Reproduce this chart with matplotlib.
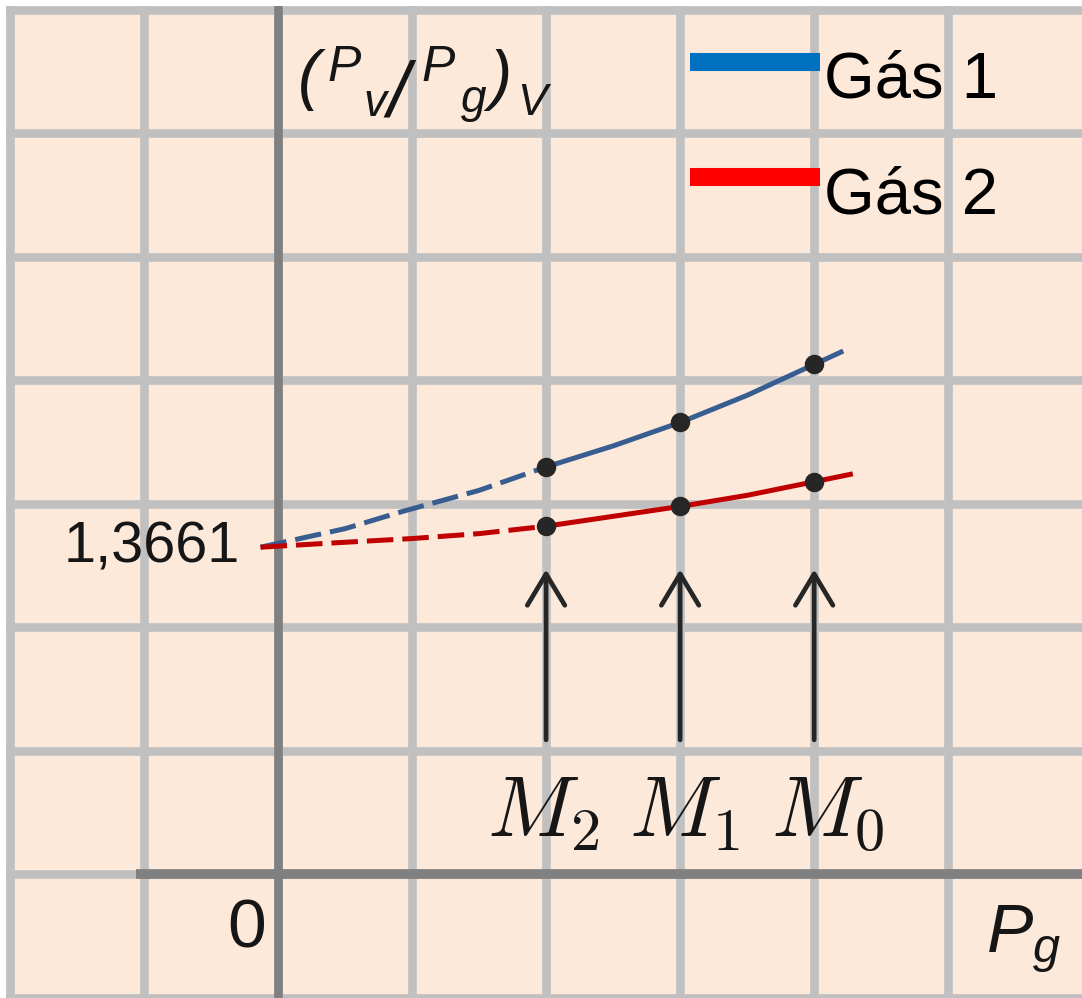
import matplotlib
matplotlib.use("Agg")
import matplotlib.pyplot as plt
from matplotlib.lines import Line2D

plt.rcParams['mathtext.fontset'] = 'custom'
plt.rcParams['mathtext.it'] = 'Liberation Sans:italic'
plt.rcParams['mathtext.rm'] = 'Liberation Sans'

# curves (grid units)
blue_dash_x = [-0.13, 0.5, 0.93, 1.5, 2.0]
blue_dash_y = [2.65, 2.80, 2.94, 3.11, 3.30]
blue_x = [2.0, 2.5, 3.0, 3.5, 4.0, 4.2]
blue_y = [3.30, 3.47, 3.66, 3.88, 4.13, 4.23]

red_dash_x = [-0.13, 0.5, 1.0, 1.5, 2.0]
red_dash_y = [2.65, 2.69, 2.72, 2.76, 2.82]
red_x = [2.0, 2.5, 3.0, 3.5, 4.0, 4.27]
red_y = [2.82, 2.90, 2.98, 3.07, 3.18, 3.24]

m_x = [2, 3, 4]
m_labels = [r'$M_2$', r'$M_1$', r'$M_0$']
blue_pts = [3.30, 3.66, 4.13]
red_pts = [2.82, 2.98, 3.18]
arrow_bottom = 1.09
arrow_top = 2.47
intercept_label = '1,3661'
legend_labels = ['Gás 1', 'Gás 2']

bg = '#fce9da'
grid_c = '#c0c0c0'
axis_c = '#808080'
blue_c = '#375d91'
red_c = '#c00000'
txt_c = '#161616'

# pixel grid of the picture: 134.04 px per unit in x (x=0 at 278 px),
# 123.57 px per unit in y (y=0 at 875 px from top)
def px(x, y):
    return (x - 278) / 134.04, (875 - y) / 123.57

fig = plt.figure(figsize=(10.82, 9.98), dpi=100, facecolor='white')
ax = fig.add_axes([6 / 1082, 0, 1076 / 1082, 992 / 998])
ax.set_facecolor(bg)
ax.set_xlim(-2.029, 5.998)
ax.set_ylim(-0.995, 7.032)
ax.set_xticks(range(-2, 6))
ax.set_yticks(range(-1, 8))
ax.tick_params(length=0, labelbottom=False, labelleft=False)
ax.grid(True, color=grid_c, lw=6.2)
ax.set_axisbelow(True)
for s in ax.spines.values():
    s.set_visible(False)

ax.axvline(0, color=axis_c, lw=6.2, zorder=1.5)
ax.hlines(0, -1.06, 6.2, color=axis_c, lw=7, zorder=1.5)

ax.plot(blue_dash_x, blue_dash_y, color=blue_c, lw=3.6, dashes=[5.3, 1.8], zorder=3)
ax.plot(red_dash_x, red_dash_y, color=red_c, lw=3.6, dashes=[5.3, 1.8], zorder=3)
ax.plot(blue_x, blue_y, color=blue_c, lw=3.6, zorder=3)
ax.plot(red_x, red_y, color=red_c, lw=3.6, zorder=3)
ax.plot(m_x, blue_pts, 'o', color='#262626', ms=13, zorder=4)
ax.plot(m_x, red_pts, 'o', color='#262626', ms=13, zorder=4)

label_shift = [-0.02, 0.03, 0.1]
for x, lab, dx in zip(m_x, m_labels, label_shift):
    ax.annotate('', xy=(x, arrow_top), xytext=(x, arrow_bottom),
                arrowprops=dict(arrowstyle='->,head_length=0.75,head_width=0.45',
                                lw=3.4, color='#262626', mutation_scale=30,
                                shrinkA=0, shrinkB=0), zorder=4)
    ax.text(x + dx, 0.3075, lab, ha='center', va='baseline', fontsize=62,
            math_fontfamily='cm', color=txt_c)

ax.text(*px(240, 563), intercept_label, ha='right', va='baseline', fontsize=41.5,
        family='Liberation Sans', color=txt_c)
ax.text(*px(266, 948), '0', ha='right', va='baseline', fontsize=50,
        family='Liberation Sans', color=txt_c)
ax.text(*px(986, 953), r'$P_g$', ha='left', va='baseline', fontsize=50, color=txt_c)

# (P_v/P_g)_V label, piece by piece
pieces = [('(', 298, 97, 48), ('P', 327, 81, 36), ('v', 363, 116, 33),
          ('/', 387, 117, 56), ('P', 421, 81, 36), ('g', 461, 112, 33),
          (')', 489, 97, 48), ('V', 517, 115, 32)]
for s, x0, y0, fs in pieces:
    ax.text(*px(x0, y0), s, ha='left', va='baseline', fontsize=fs,
            family='Liberation Sans', style='italic', color=txt_c)

handles = [Line2D([], [], color='#0070c0', lw=13, solid_capstyle='butt'),
           Line2D([], [], color='#ff0000', lw=13, solid_capstyle='butt')]
ax.legend(handles, legend_labels, loc='upper left',
          bbox_to_anchor=(690 / 1082, 972 / 998), bbox_transform=fig.transFigure,
          frameon=False, borderpad=0, borderaxespad=0, handlelength=1.99,
          handleheight=2.0, handletextpad=0.06, labelspacing=0.23,
          prop=dict(family='Liberation Sans', size=47))

fig.savefig('out.png', dpi=100, facecolor='white')
